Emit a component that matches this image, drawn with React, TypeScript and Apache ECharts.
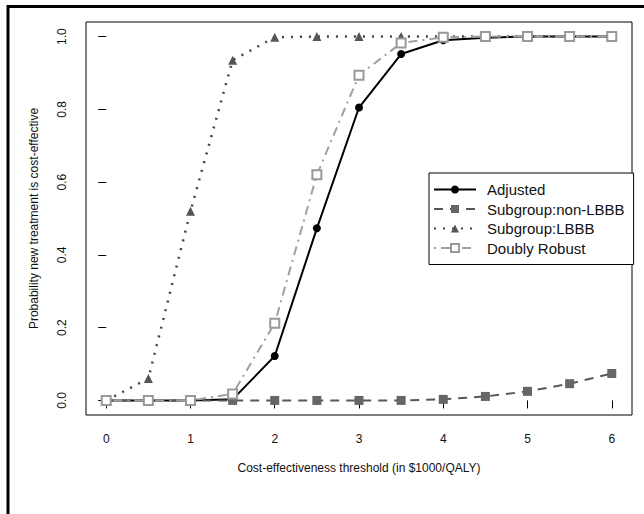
import React, { useEffect, useRef } from "react";
import * as echarts from "echarts";

const thresholds = [0, 0.5, 1, 1.5, 2, 2.5, 3, 3.5, 4, 4.5, 5, 5.5, 6];
const adjusted = [0, 0, 0, 0.003, 0.122, 0.473, 0.805, 0.952, 0.99, 0.997, 1, 1, 1];
const nonLBBB = [0, 0, 0, 0, 0, 0, 0, 0, 0.003, 0.011, 0.025, 0.046, 0.074];
const lbbb = [0, 0.06, 0.52, 0.935, 0.998, 1, 1, 1, 1, 1, 1, 1, 1];
const doublyRobust = [0, 0, 0, 0.018, 0.212, 0.62, 0.894, 0.982, 0.998, 1, 1, 1, 1];
const xTicks = [0, 1, 2, 3, 4, 5, 6];
const yTicks = [0, 0.2, 0.4, 0.6, 0.8, 1.0];

const FONT = "'Liberation Sans', Arial, sans-serif";

const pairs = (ys: number[]) => thresholds.map((x, i) => [x, ys[i]]);

export default function App() {
  const ref = useRef<HTMLDivElement>(null);
  useEffect(() => {
    if (!ref.current) return;
    const chart = echarts.init(ref.current, undefined, { renderer: "svg" });
    chart.setOption({
      animation: false,
      backgroundColor: "#ffffff",
      textStyle: { fontFamily: FONT },
      grid: {
        left: 86,
        right: 12,
        top: 22,
        bottom: 99,
        show: true,
        borderColor: "#000",
        borderWidth: 1,
        backgroundColor: "transparent",
      },
      xAxis: {
        type: "value",
        min: -0.24,
        max: 6.24,
        name: "Cost-effectiveness threshold (in $1000/QALY)",
        nameLocation: "middle",
        nameGap: 47,
        nameTextStyle: { fontSize: 12, color: "#111", fontFamily: FONT },
        axisLine: { show: false },
        splitLine: { show: false },
        axisTick: {
          show: true,
          inside: false,
          length: 8,
          customValues: xTicks,
          lineStyle: { color: "#000", width: 1 },
        },
        axisLabel: {
          customValues: xTicks,
          margin: 18,
          fontSize: 12,
          color: "#111",
          fontFamily: FONT,
        },
      },
      yAxis: {
        type: "value",
        min: -0.04,
        max: 1.04,
        name: "Probability new treatment is cost-effective",
        nameLocation: "middle",
        nameGap: 46,
        nameRotate: 90,
        nameTextStyle: { fontSize: 12, color: "#111", fontFamily: FONT },
        axisLine: { show: false },
        splitLine: { show: false },
        axisTick: {
          show: true,
          inside: false,
          length: 8,
          customValues: yTicks,
          lineStyle: { color: "#000", width: 1 },
        },
        axisLabel: {
          customValues: yTicks,
          rotate: 90,
          margin: 18,
          fontSize: 12,
          color: "#111",
          fontFamily: FONT,
          formatter: (v: number) => v.toFixed(1),
        },
      },
      legend: {
        orient: "vertical",
        left: 429,
        top: 173,
        itemWidth: 42,
        itemHeight: 10,
        itemGap: 4.5,
        padding: [9, 9, 9, 4],
        borderColor: "#000",
        borderWidth: 1,
        backgroundColor: "#fff",
        textStyle: { fontSize: 15, color: "#111", fontFamily: FONT, padding: [0, 0, 0, 6] },
        data: ["Adjusted", "Subgroup:non-LBBB", "Subgroup:LBBB", "Doubly Robust"],
      },
      series: [
        {
          name: "Adjusted",
          type: "line",
          data: pairs(adjusted),
          symbol: "circle",
          symbolSize: 8,
          lineStyle: { color: "#000", width: 2, type: "solid" },
          itemStyle: { color: "#000" },
          z: 2,
        },
        {
          name: "Subgroup:non-LBBB",
          type: "line",
          data: pairs(nonLBBB),
          symbol: "rect",
          symbolSize: 9,
          lineStyle: { color: "#585858", width: 2, type: [9, 7] },
          itemStyle: { color: "#666" },
          z: 3,
        },
        {
          name: "Subgroup:LBBB",
          type: "line",
          data: pairs(lbbb),
          symbol: "triangle",
          symbolSize: 9,
          lineStyle: { color: "#444", width: 2.5, type: [2, 7] },
          itemStyle: { color: "#555" },
          z: 4,
        },
        {
          name: "Doubly Robust",
          type: "line",
          data: pairs(doublyRobust),
          symbol: "emptyRect",
          symbolSize: 9,
          lineStyle: { color: "#a0a0a0", width: 2, type: [2, 5, 9, 5] },
          itemStyle: { color: "#999", borderWidth: 1.5 },
          z: 5,
        },
      ],
      graphic: [
        {
          type: "line",
          shape: { x1: 7, y1: 6.5, x2: 644, y2: 6.5 },
          style: { stroke: "#000", lineWidth: 3 },
          z: 100,
        },
        {
          type: "line",
          shape: { x1: 8, y1: 5, x2: 8, y2: 514 },
          style: { stroke: "#000", lineWidth: 3 },
          z: 100,
        },
      ],
    });
    return () => chart.dispose();
  }, []);
  return (
    <div
      ref={ref}
      style={{ position: "absolute", left: 0, top: 0, width: 644, height: 514, background: "#fff" }}
    />
  );
}
